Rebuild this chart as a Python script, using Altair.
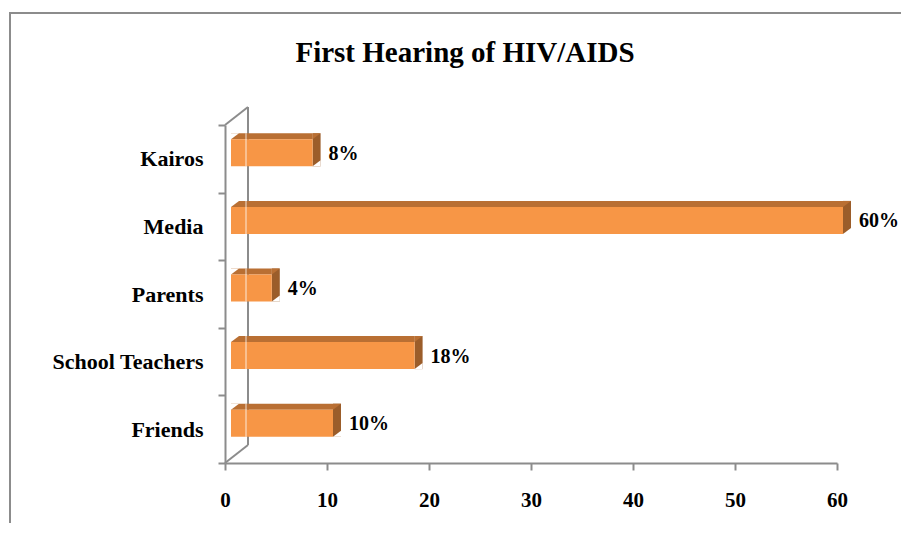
import altair as alt
import pandas as pd

# ---- data ----
categories = ["Kairos", "Media", "Parents", "School Teachers", "Friends"]
percentages = [8, 60, 4, 18, 10]
x_ticks = [0, 10, 20, 30, 40, 50, 60]
title_text = "First Hearing of HIV/AIDS"

df = pd.DataFrame({"source": categories, "pct": percentages})
one = pd.DataFrame({"k": [0]})

# ---- styles ----
W, H = 612, 338
FRONT = "#f79646"
TOP = "#b96f33"
SIDE = "#9b5d2a"
GRAY = "#8c8c8c"
FONT = "Liberation Serif"
BAR = 27

y_axis = alt.Axis(
    title=None, labelFont=FONT, labelFontSize=22, labelFontWeight="bold",
    labelColor="black", tickColor=GRAY, tickSize=7, tickWidth=2,
    domainColor=GRAY, domainWidth=2, tickBand="extent", labelPadding=15,
    grid=False,
)
x_axis = alt.Axis(
    title=None, values=x_ticks, format="d", labelFont=FONT, labelFontSize=21,
    labelFontWeight="bold", labelColor="black", tickColor=GRAY, tickSize=7,
    tickWidth=2, domainColor=GRAY, domainWidth=2, labelPadding=19, grid=False,
    labelFlush=False, labelOverlap=False,
)
ysc = alt.Scale(domain=categories, paddingInner=0, paddingOuter=0)
xsc = alt.Scale(domain=[0, 60], nice=False, zero=True)

Y = alt.Y("source:N", sort=categories, scale=ysc, axis=y_axis)
X_start = alt.X("start:Q", scale=xsc, axis=x_axis)
X_pct = alt.X("pct:Q", scale=xsc, axis=x_axis)

base = alt.Chart(df).transform_calculate(start="0", label="datum.pct + '%'")

# 3D frame: back wall edge and diagonals
back_line = alt.Chart(one).mark_rule(color=GRAY, strokeWidth=2).encode(
    x=alt.value(23), y=alt.value(-18), y2=alt.value(H - 18))
diag_top = alt.Chart(one).mark_rule(color=GRAY, strokeWidth=2).encode(
    x=alt.value(0), x2=alt.value(23), y=alt.value(0), y2=alt.value(-18))
diag_bot = alt.Chart(one).mark_rule(color=GRAY, strokeWidth=2).encode(
    x=alt.value(0), x2=alt.value(23), y=alt.value(H), y2=alt.value(H - 18))

# bar side face
side = base.mark_bar(color=SIDE, size=BAR + 6, xOffset=6, x2Offset=14, yOffset=-9).encode(
    x=X_pct, x2=alt.X2("pct:Q"), y=Y)
# bar top face
top = base.mark_bar(color=TOP, size=6, xOffset=6, x2Offset=6, yOffset=-22.5).encode(
    x=X_start, x2=alt.X2("pct:Q"), y=Y)
tri_top = base.mark_point(shape="M -1 0.75 L -1 -0.75 L 1 -0.75 Z", filled=True, size=64,
                          color=TOP, opacity=1, strokeWidth=0, xOffset=10, yOffset=-22.5).encode(
    x=X_pct, y=Y)
mask_tl = base.mark_point(shape="M -1 -0.75 L 1 -0.75 L -1 0.75 Z", filled=True, size=64,
                          color="white", opacity=1, strokeWidth=0, xOffset=10, yOffset=-22.5).encode(
    x=X_start, y=Y)
mask_br = base.mark_point(shape="M -1 0.75 L 1 0.75 L 1 -0.75 Z", filled=True, size=64,
                          color="white", opacity=1, strokeWidth=0, xOffset=10, yOffset=4.5).encode(
    x=X_pct, y=Y)
# bar front face
front = base.mark_bar(color=FRONT, size=BAR, xOffset=6, x2Offset=6, yOffset=-6).encode(
    x=X_start, x2=alt.X2("pct:Q"), y=Y)
# faint wall line seen through bars
seam = base.mark_tick(orient="vertical", color="white", opacity=0.8, thickness=1,
                      size=BAR + 6, xOffset=21, yOffset=-9).encode(x=X_start, y=Y)

labels = base.mark_text(align="left", baseline="middle", font=FONT, fontSize=20,
                        fontWeight="bold", color="black", xOffset=22, yOffset=-5).encode(
    x=X_pct, y=Y, text="label:N")

title = alt.Chart(pd.DataFrame({"t": [title_text]})).mark_text(
    font=FONT, fontSize=29, fontWeight="bold", color="black",
    align="center", baseline="alphabetic").encode(
    x=alt.value(240), y=alt.value(-63), text="t:N")

border_left = alt.Chart(one).mark_rule(color=GRAY, strokeWidth=2).encode(
    x=alt.value(-215), y=alt.value(-112), y2=alt.value(H + 80))
border_top = alt.Chart(one).mark_rule(color=GRAY, strokeWidth=2).encode(
    x=alt.value(-216), x2=alt.value(W + 80), y=alt.value(-112))

chart = alt.layer(
    back_line, diag_top, diag_bot, side, top, tri_top, mask_tl, mask_br, front,
    seam, labels, title, border_left, border_top
).properties(
    width=W, height=H,
    autosize=alt.AutoSizeParams(type="none"),
    padding={"left": 217, "top": 117, "right": 64, "bottom": 60},
).configure_view(stroke=None)

chart.save("out.html", embed_options={"renderer": "svg", "actions": False})
